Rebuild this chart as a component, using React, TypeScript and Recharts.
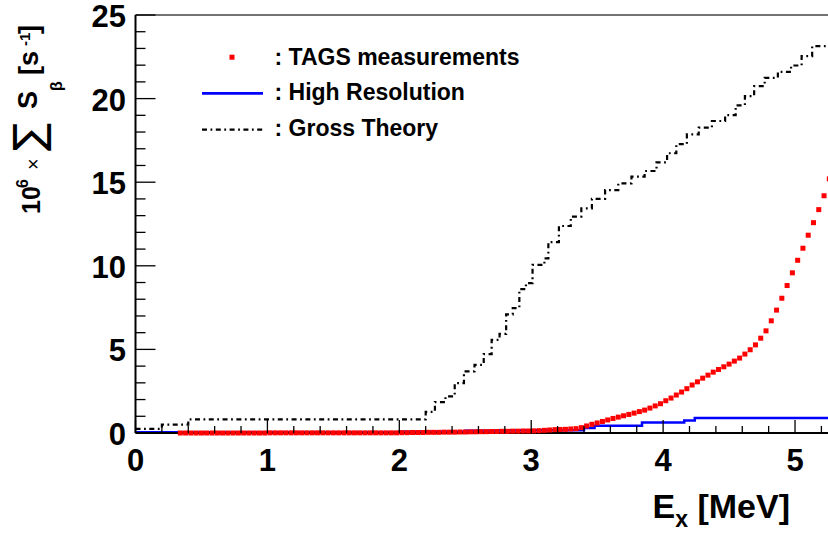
import React from 'react';
import {
  ComposedChart,
  Line,
  Scatter,
  XAxis,
  YAxis,
  ReferenceLine,
  Legend,
  Customized,
} from 'recharts';

const FONT = '"Liberation Sans", Arial, Helvetica, sans-serif';

// ---- axis ticks ----
const xTicks = [0, 0.2, 0.4, 0.6, 0.8, 1, 1.2, 1.4, 1.6, 1.8, 2, 2.2, 2.4, 2.6, 2.8, 3, 3.2, 3.4, 3.6, 3.8, 4, 4.2, 4.4, 4.6, 4.8, 5, 5.2];
const yTicks = [0, 1, 2, 3, 4, 5, 6, 7, 8, 9, 10, 11, 12, 13, 14, 15, 16, 17, 18, 19, 20, 21, 22, 23, 24, 25];
const xMajorLabels = ['0', '1', '2', '3', '4', '5'];
const yMajorLabels = ['0', '5', '10', '15', '20', '25'];

// ---- TAGS measurements (red markers) ----
const tagsE = [
  0.34, 0.38, 0.42, 0.46, 0.50, 0.54, 0.58, 0.62, 0.66, 0.70, 0.74, 0.78, 0.82, 0.86, 0.90, 0.94, 0.98,
  1.02, 1.06, 1.10, 1.14, 1.18, 1.22, 1.26, 1.30, 1.34, 1.38, 1.42, 1.46, 1.50, 1.54, 1.58, 1.62, 1.66, 1.70, 1.74, 1.78, 1.82, 1.86, 1.90, 1.94, 1.98,
  2.02, 2.06, 2.10, 2.14, 2.18, 2.22, 2.26, 2.30, 2.34, 2.38, 2.42, 2.46, 2.50,
  2.54, 2.58, 2.62, 2.66, 2.70, 2.74, 2.78, 2.82, 2.86, 2.90, 2.94, 2.98,
  3.02, 3.06, 3.10, 3.14, 3.18, 3.22, 3.26, 3.30, 3.34,
  3.38, 3.42, 3.46, 3.50, 3.54, 3.58, 3.62, 3.66, 3.70, 3.74, 3.78, 3.82, 3.86, 3.90, 3.94, 3.98,
  4.02, 4.06, 4.10, 4.14, 4.18, 4.22, 4.26, 4.30, 4.34, 4.38, 4.42, 4.46, 4.50, 4.54, 4.58, 4.62,
  4.66, 4.70, 4.74, 4.78, 4.82, 4.86, 4.90, 4.94, 4.98, 5.02, 5.06, 5.10, 5.14, 5.18, 5.22, 5.26,
];
const tagsV = [
  0, 0, 0, 0, 0, 0, 0, 0, 0, 0, 0, 0, 0, 0, 0, 0, 0,
  0.01, 0.01, 0.01, 0.01, 0.01, 0.01, 0.01, 0.01, 0.01, 0.01, 0.01, 0.01, 0.01, 0.01, 0.01, 0.01, 0.01, 0.01, 0.01, 0.01, 0.01, 0.01, 0.01, 0.01, 0.01,
  0.02, 0.02, 0.03, 0.03, 0.03, 0.04, 0.04, 0.04, 0.05, 0.05, 0.05, 0.06, 0.06,
  0.07, 0.07, 0.08, 0.08, 0.09, 0.09, 0.10, 0.10, 0.11, 0.11, 0.12, 0.12,
  0.13, 0.14, 0.16, 0.18, 0.20, 0.21, 0.22, 0.24, 0.26,
  0.32, 0.42, 0.52, 0.60, 0.69, 0.78, 0.87, 0.95, 1.03, 1.11, 1.19, 1.28, 1.37, 1.49, 1.62, 1.75,
  1.93, 2.09, 2.27, 2.45, 2.65, 2.87, 3.06, 3.28, 3.46, 3.64, 3.80, 3.96, 4.12, 4.30, 4.48, 4.72,
  4.98, 5.27, 5.67, 6.11, 6.71, 7.35, 8.06, 8.82, 9.58, 10.33, 11.05, 11.83, 12.58, 13.36, 14.19, 15.2,
];

// ---- High Resolution (blue step) ----
const hiresE = [0, 2.0, 2.5, 2.75, 3.40, 3.48, 3.84, 4.16, 4.24, 5.25];
const hiresV = [0.04, 0.07, 0.14, 0.17, 0.30, 0.44, 0.63, 0.75, 0.90, 0.90];

// ---- Gross Theory (black dash-dot step) ----
const grossE = [
  0, 0.2, 0.4, 2.2, 2.27, 2.35, 2.42, 2.49, 2.57, 2.64, 2.70, 2.76, 2.81, 2.86, 2.91, 2.96,
  3.01, 3.10, 3.13, 3.21, 3.30, 3.38, 3.46, 3.56, 3.66, 3.76, 3.86, 3.95, 4.03, 4.10, 4.18,
  4.27, 4.37, 4.47, 4.55, 4.62, 4.69, 4.77, 4.87, 4.97, 5.05, 5.13, 5.25,
];
const grossV = [
  0.25, 0.5, 0.82, 1.26, 1.85, 2.19, 2.98, 3.68, 4.08, 4.72, 5.57, 5.93, 7.1, 7.47, 8.6, 8.96,
  10.05, 10.45, 11.42, 12.38, 12.94, 13.44, 14.0, 14.53, 14.93, 15.33, 15.67, 16.19, 16.73, 17.28, 17.86,
  18.26, 18.66, 19.01, 19.6, 20.15, 20.75, 21.24, 21.6, 21.98, 22.54, 23.14, 23.14,
];

const seriesNames = ['TAGS measurements', 'High Resolution', 'Gross Theory'];

const tagsData = tagsE.map((x, i) => ({ x, y: tagsV[i] }));
const hiresData = hiresE.map((x, i) => ({ x, y: hiresV[i] }));
const grossData = grossE.map((x, i) => ({ x, y: grossV[i] }));

const GROSS_DASH = '5 3.5 1.8 3.5';

function isMajor(v: number, step: number) {
  const r = v / step;
  return Math.abs(r - Math.round(r)) < 1e-6;
}

function XTick(props: any) {
  const { x, y, payload } = props;
  const v = payload.value as number;
  const major = isMajor(v, 1);
  return (
    <g>
      <line x1={x} x2={x} y1={y} y2={y - (major ? 13 : 7)} stroke="#000" strokeWidth={1.3} />
      {major && (
        <text x={x} y={y + 38} textAnchor="middle" fontFamily={FONT} fontWeight="bold" fontSize={31} fill="#000">
          {xMajorLabels[Math.round(v)]}
        </text>
      )}
    </g>
  );
}

function YTick(props: any) {
  const { x, y, payload } = props;
  const v = payload.value as number;
  const major = isMajor(v, 5);
  return (
    <g>
      <line x1={x} x2={x + (major ? 20 : 10)} y1={y} y2={y} stroke="#000" strokeWidth={1.3} />
      {major && (
        <text x={x - 9.5} y={y + 12} textAnchor="end" fontFamily={FONT} fontWeight="bold" fontSize={31} fill="#000">
          {yMajorLabels[Math.round(v / 5)]}
        </text>
      )}
    </g>
  );
}

function renderSquare(props: any) {
  const { cx, cy } = props;
  if (cx == null || cy == null) return <g />;
  return <rect x={cx - 2.5} y={cy - 2.5} width={5} height={5} fill="#ff0000" />;
}

function AxisTitles() {
  const t = { fontFamily: FONT, fontWeight: 'bold' as const, fill: '#000' };
  return (
    <g>
      <text x={790} y={518} textAnchor="end" fontSize={34} {...t}>
        E
        <tspan fontSize={23} dy={9}>x</tspan>
        <tspan fontSize={34} dy={-9}>{' [MeV]'}</tspan>
      </text>
      <g transform="rotate(-90)">
        <text x={-214} y={40} fontSize={25} {...t}>10</text>
        <text x={-188} y={28} fontSize={16} {...t}>6</text>
        <text x={-170} y={40} fontSize={20} fontFamily={FONT} fill="#000">×</text>
        <text x={-151} y={43} fontSize={42} fontFamily='"DejaVu Sans", sans-serif' fill="#000">∑</text>
        <text x={-109} y={37} fontSize={27} {...t}>S</text>
        <text x={-91} y={62} fontSize={16} {...t}>β</text>
        <text x={-75} y={38} fontSize={27} {...t}>[s</text>
        <text x={-46} y={30} fontSize={15} {...t}>-1</text>
        <text x={-34} y={38} fontSize={27} {...t}>]</text>
      </g>
    </g>
  );
}

const ROW_H = 35.4;

function renderLegend() {
  return (
    <div style={{ fontFamily: FONT, fontWeight: 'bold', fontSize: 23, color: '#000' }}>
      {seriesNames.map((name, i) => (
        <div key={name} style={{ display: 'flex', alignItems: 'center', height: ROW_H, whiteSpace: 'nowrap' }}>
          <svg width={72.5} height={ROW_H} style={{ display: 'block', flex: 'none' }}>
            {i === 0 && <rect x={27.5} y={ROW_H / 2 - 3} width={5} height={5} fill="#ff0000" />}
            {i === 1 && <line x1={0} x2={61} y1={ROW_H / 2 + 0.7} y2={ROW_H / 2 + 0.7} stroke="#0000ff" strokeWidth={2.6} />}
            {i === 2 && (
              <line x1={0} x2={61} y1={ROW_H / 2 + 1} y2={ROW_H / 2 + 1} stroke="#000" strokeWidth={2.2} strokeDasharray={GROSS_DASH} />
            )}
          </svg>
          <span style={{ lineHeight: `${ROW_H}px` }}>: {name}</span>
        </div>
      ))}
    </div>
  );
}

export default function App() {
  return (
    <div style={{ position: 'absolute', left: 0, top: 0, width: 828, height: 533, background: '#fff', overflow: 'hidden' }}>
      <ComposedChart width={828} height={533} margin={{ top: 15, right: 0, bottom: 0, left: 0 }}>
        <XAxis
          type="number"
          dataKey="x"
          domain={[0, 5.25]}
          allowDataOverflow
          ticks={xTicks}
          interval={0}
          tickSize={0}
          tickMargin={0}
          tickLine={false}
          axisLine={{ stroke: '#000', strokeWidth: 2 }}
          tick={<XTick />}
          height={100}
        />
        <YAxis
          type="number"
          dataKey="y"
          domain={[0, 25]}
          ticks={yTicks}
          interval={0}
          tickSize={0}
          tickMargin={0}
          tickLine={false}
          axisLine={{ stroke: '#000', strokeWidth: 2 }}
          tick={<YTick />}
          width={135.5}
        />
        <ReferenceLine y={25} stroke="#444" strokeWidth={1.5} />
        <Line
          data={grossData}
          dataKey="y"
          name={seriesNames[2]}
          type="stepAfter"
          stroke="#000"
          strokeWidth={2.2}
          strokeDasharray={GROSS_DASH}
          dot={false}
          activeDot={false}
          isAnimationActive={false}
        />
        <Scatter
          data={tagsData}
          dataKey="y"
          name={seriesNames[0]}
          fill="#ff0000"
          shape={renderSquare}
          isAnimationActive={false}
        />
        <Line
          data={hiresData}
          dataKey="y"
          name={seriesNames[1]}
          type="stepAfter"
          stroke="#0000ff"
          strokeWidth={2.5}
          dot={false}
          activeDot={false}
          isAnimationActive={false}
        />
        <Legend
          layout="vertical"
          align="center"
          verticalAlign="middle"
          content={renderLegend}
          wrapperStyle={{ left: 202, top: 39.8, width: 420, height: 110 }}
        />
        <Customized component={<AxisTitles />} />
      </ComposedChart>
    </div>
  );
}
